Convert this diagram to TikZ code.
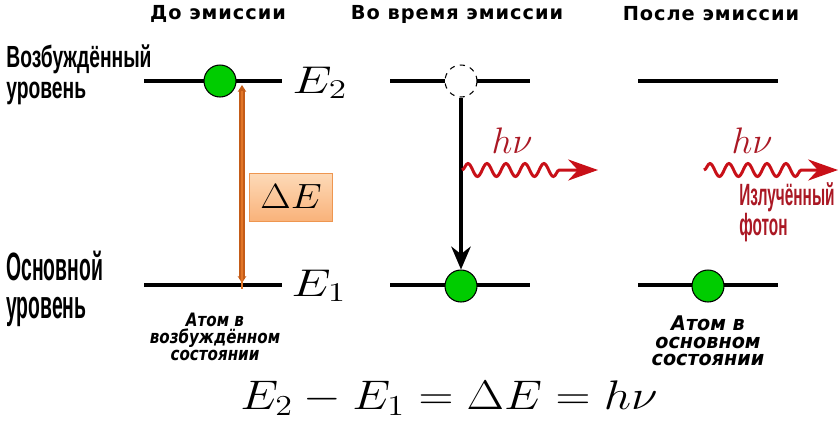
\documentclass[tikz,border=0pt]{standalone}
\usepackage{fix-cm}
\usepackage{amsmath,amssymb}
\usepackage{fontspec}
\usetikzlibrary{arrows.meta,decorations.pathmorphing}

\newfontfamily\headfont[LetterSpace=5]{DejaVu Sans}
\newfontfamily\notefont[FakeStretch=0.82]{DejaVu Sans}
\newfontfamily\bignotefont[FakeStretch=0.95]{DejaVu Sans}
\newfontfamily\upfont[FakeStretch=0.63]{Liberation Sans}
\newfontfamily\downfont[FakeStretch=0.49]{Liberation Sans}
\newfontfamily\photfont[FakeStretch=0.5]{Liberation Sans}

\definecolor{atomgreen}{RGB}{0,204,0}
\definecolor{photonred}{RGB}{200,16,24}
\definecolor{labelred}{RGB}{170,24,36}
\definecolor{gaporange}{RGB}{226,118,40}
\definecolor{gapedge}{RGB}{196,92,24}
\definecolor{boxtop}{RGB}{253,218,184}
\definecolor{boxbot}{RGB}{249,178,122}
\definecolor{boxline}{RGB}{238,150,80}

\begin{document}
\begin{tikzpicture}[
        x=0.02cm,y=-0.02cm,
        level/.style={line width=2pt},
        atom/.style={circle,draw,fill=atomgreen,minimum size=0.64cm,inner sep=0pt,line width=0.6pt},
        hole/.style={circle,draw,dashed,fill=white,minimum size=0.64cm,inner sep=0pt,line width=0.6pt},
        head/.style={font=\headfont\bfseries\fontsize{11}{13}\selectfont,inner sep=0pt},
        side/.style={anchor=north west,align=left,inner sep=0pt},
        energy/.style={anchor=base west,inner sep=0pt,font=\fontsize{22}{26}\selectfont},
        note/.style={align=center,inner sep=0pt,font=\notefont\bfseries\itshape\fontsize{10.5}{9.6}\selectfont},
        nu/.style={anchor=base,inner sep=0pt,text=labelred,font=\fontsize{21}{24}\selectfont},
        photon/.style={draw=photonred,line width=1.7pt,decorate,
            decoration={snake,amplitude=0.13cm,segment length=0.38cm,post length=0.65cm},
            -{Stealth[length=17pt,width=12pt]}},
        gap/.style={draw=gapedge,line width=3.4pt,{Stealth[length=4pt,width=5pt]}-{Stealth[length=4pt,width=5pt]}},
        fall/.style={line width=2.2pt,-{Stealth[length=13pt,width=11pt]}}
    ]
        \path[use as bounding box] (0,0) rectangle (840,424);

        % headings
        \node[head] (t1) at (218,14) {До эмиссии};
        \node[head] (t2) at (457,14) {Во время эмиссии};
        \node[head] (t3) at (711,14) {После эмиссии};

        % level names
        \node[side,font=\upfont\bfseries\fontsize{17.4}{18}\selectfont] (up) at (6,44) {Возбуждённый\\уровень};
        \node[side,font=\downfont\bfseries\fontsize{22.5}{21.5}\selectfont] (down) at (6,251) {Основной\\уровень};

        % energy levels
        \draw[level] (144,81) -- (282,81);
        \draw[level] (144,285) -- (282,285);
        \draw[level] (390,81) -- (530,81);
        \draw[level] (390,285) -- (530,285);
        \draw[level] (638,81) -- (778,81);
        \draw[level] (638,285) -- (778,285);

        \node[energy] (e2) at (292,93) {\scalebox{1.3}[1.0]{$E_2$}};
        \node[energy] (e1) at (291,296) {\scalebox{1.3}[1.0]{$E_1$}};

        % energy gap
        \coordinate (gtop) at (242,85);
        \coordinate (gbot) at (242,283);
        \draw[gap] (gtop) -- (gbot);
        \draw[draw=gaporange,line width=1.6pt] (gtop) ++(0,6) -- ([yshift=-0.12cm]gbot);
        \node[draw=boxline,top color=boxtop,bottom color=boxbot,minimum width=1.66cm,minimum height=0.96cm,
            inner sep=0pt,font=\fontsize{19}{22}\selectfont] (de) at (291,197) {\scalebox{1.18}[1.05]{$\Delta E$}};

        % electrons
        \node[atom] (a1) at (220,81) {};
        \node[hole] (h2) at (461,81) {};
        \node[atom] (a2) at (461,286) {};
        \node[atom] (a3) at (708,286) {};

        \draw[fall] (h2) -- (a2);

        % photons
        \coordinate (p1) at (462,170);
        \coordinate (q1) at (598,170);
        \coordinate (p3) at (704,170);
        \coordinate (q3) at (838,170);
        \draw[photon] (p1) -- (q1);
        \draw[photon] (p3) -- (q3);
        \node[nu] (nu1) at (512,153) {$h\nu$};
        \node[nu] (nu3) at (752,153) {$h\nu$};
        \node[side,text=labelred,font=\photfont\bfseries\fontsize{17.5}{14}\selectfont] (ph) at (739,182) {Излучённый\\фотон};

        % states
        \node[note] (s1) at (215,337) {Атом в\\возбуждённом\\состоянии};
        \node[note,font=\bignotefont\bfseries\itshape\fontsize{11.5}{10}\selectfont] (s3) at (708,341) {Атом в\\основном\\состоянии};

        \node[anchor=base,inner sep=0pt,font=\fontsize{22.4}{26}\selectfont] (eq) at (449,409) {\scalebox{1.23}[1.05]{$E_2 - E_1 = \Delta E = h\nu$}};
    \end{tikzpicture}
\end{document}
